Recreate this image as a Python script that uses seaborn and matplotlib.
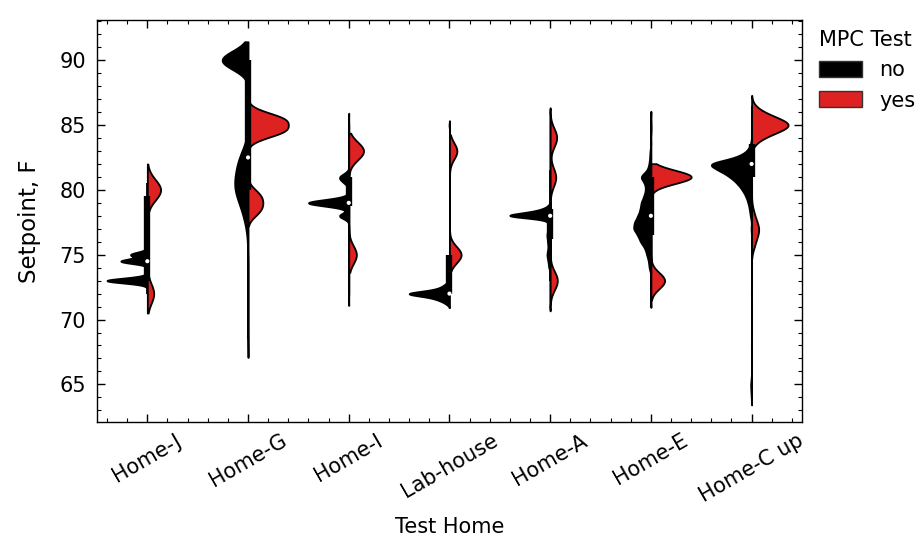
import numpy as np
import pandas as pd
import matplotlib
matplotlib.use("Agg")
import matplotlib.pyplot as plt
import seaborn as sns
from matplotlib.ticker import MultipleLocator
from matplotlib.patches import Patch

# ---- data -------------------------------------------------------------
HOMES = ["Home-J", "Home-G", "Home-I", "Lab-house", "Home-A", "Home-E", "Home-C up"]
MPC_LEVELS = ["no", "yes"]

# (setpoint in F, number of logged intervals at that setpoint)
HOME_J_NO = [(72.75, 2), (73.0, 44), (73.25, 4), (74.5, 30), (75.0, 18), (75.25, 2)]
HOME_J_YES = [(72.0, 20), (79.5, 6), (80.0, 32), (80.5, 6)]

HOME_G_NO = [(68.5, 1), (69.5, 1), (70.5, 1), (71.5, 1), (72.5, 1), (73.5, 1), (74.5, 1),
             (75.5, 2), (76.5, 3), (77.0, 3),
             (77.5, 8), (78.0, 11), (78.5, 15), (79.0, 21), (79.5, 27), (80.0, 33), (80.5, 34),
             (81.0, 30), (81.5, 28), (82.0, 26), (82.5, 22), (83.0, 14), (83.5, 6), (84.0, 2),
             (90.0, 212)]
HOME_G_YES = [(78.0, 1), (78.5, 2), (79.0, 2), (79.5, 2), (80.0, 1),
              (84.0, 2), (84.5, 6), (85.0, 5), (85.5, 6), (86.0, 2)]

HOME_I_NO = [(71.5, 1), (77.75, 2), (78.0, 22), (78.25, 2), (78.75, 22), (79.0, 84),
             (79.25, 22), (79.75, 2), (80.5, 6), (80.75, 10), (81.0, 16), (81.25, 5), (85.5, 1)]
HOME_I_YES = [(75.0, 34), (83.0, 66)]

LAB_HOUSE_NO = [(71.25, 6), (71.5, 16), (71.75, 30), (72.0, 80), (72.25, 24), (72.5, 12),
                (72.75, 6), (85.0, 1)]
LAB_HOUSE_YES = [(75.0, 44), (83.0, 28)]

HOME_A_NO = [(71.0, 1), (74.0, 3), (74.25, 3), (74.5, 4), (74.75, 5), (75.0, 6), (75.25, 5),
             (75.5, 4), (75.75, 4), (76.0, 5), (76.25, 5), (76.5, 6), (76.75, 5), (77.0, 4),
             (77.25, 3), (77.5, 3), (77.75, 10), (78.0, 100), (78.25, 40), (78.5, 14),
             (78.75, 4), (86.0, 1)]
HOME_A_YES = [(72.5, 12), (73.0, 20), (73.5, 12), (80.5, 10), (81.0, 16), (81.5, 8),
              (83.5, 10), (84.0, 18), (84.5, 12)]

HOME_E_NO = [(71.5, 1), (74.0, 8), (74.5, 10), (75.0, 18), (75.5, 25), (76.0, 45), (76.5, 55),
             (77.0, 75), (77.5, 70), (78.0, 55), (78.5, 45), (79.0, 42), (79.5, 30), (80.0, 22),
             (80.5, 25), (81.0, 48), (81.5, 15), (82.0, 8), (82.5, 5), (83.0, 4), (84.0, 2), (85.5, 1)]
HOME_E_YES = [(72.5, 10), (73.0, 25), (73.5, 10), (81.0, 110)]

HOME_C_UP_NO = [(64.0, 1), (64.5, 2), (65.0, 3), (65.5, 1), (68.0, 1), (72.0, 1), (76.0, 1),
                (77.0, 2), (78.0, 4), (78.5, 6), (79.0, 10), (79.5, 16), (80.0, 26), (80.5, 40),
                (81.0, 60), (81.5, 90), (82.0, 130), (82.5, 40), (83.0, 12), (83.5, 3)]
HOME_C_UP_YES = [(75.5, 3), (76.0, 5), (76.5, 8), (77.0, 10), (77.5, 7), (78.0, 4), (78.5, 2),
                 (83.5, 3), (84.0, 14), (84.5, 35), (85.0, 56), (85.5, 35), (86.0, 14), (86.5, 3)]

# KDE bandwidth factor used for each home's violin
KDE_BW = [0.2, 0.14, 0.18, 0.16, 0.12, 0.14, 0.12]

SAMPLES = {
    ("Home-J", "no"): HOME_J_NO, ("Home-J", "yes"): HOME_J_YES,
    ("Home-G", "no"): HOME_G_NO, ("Home-G", "yes"): HOME_G_YES,
    ("Home-I", "no"): HOME_I_NO, ("Home-I", "yes"): HOME_I_YES,
    ("Lab-house", "no"): LAB_HOUSE_NO, ("Lab-house", "yes"): LAB_HOUSE_YES,
    ("Home-A", "no"): HOME_A_NO, ("Home-A", "yes"): HOME_A_YES,
    ("Home-E", "no"): HOME_E_NO, ("Home-E", "yes"): HOME_E_YES,
    ("Home-C up", "no"): HOME_C_UP_NO, ("Home-C up", "yes"): HOME_C_UP_YES,
}

frames = []
for (home, mpc), pairs in SAMPLES.items():
    values = np.repeat([v for v, _ in pairs], [c for _, c in pairs])
    frames.append(pd.DataFrame({"home": home, "mpc": mpc, "setpoint": values}))
df = pd.concat(frames, ignore_index=True)

# ---- style ------------------------------------------------------------
COLORS = {"no": "#000000", "yes": "#de2121"}
LW = 1.3
FS = 15
plt.rcParams["font.family"] = ["DejaVu Sans"]

fig = plt.figure(figsize=(9.2, 5.4), dpi=100)
ax = fig.add_axes([0.1054, 0.2185, 0.7663, 0.7445])

# one call per home so each split violin is scaled on its own
for home, bw in zip(HOMES, KDE_BW):
    sub = df[df["home"] == home]
    sns.violinplot(data=sub, x="home", y="setpoint", hue="mpc",
                   order=HOMES, hue_order=MPC_LEVELS, split=True, inner=None,
                   palette=COLORS, saturation=1, linecolor="black", linewidth=LW,
                   density_norm="area", common_norm=True, bw_method=bw,
                   cut=2, gridsize=400, width=0.8, legend=False, ax=ax)

# box-and-whisker summary of all readings of each home
for pos, home in enumerate(HOMES):
    vals = df.loc[df["home"] == home, "setpoint"].to_numpy()
    q1, med, q3 = np.percentile(vals, [25, 50, 75])
    iqr = q3 - q1
    lo = vals[vals >= q1 - 1.5 * iqr].min()
    hi = vals[vals <= q3 + 1.5 * iqr].max()
    ax.plot([pos, pos], [lo, hi], color="black", lw=LW, solid_capstyle="butt", zorder=3)
    ax.plot([pos, pos], [q1, q3], color="black", lw=LW * 3.5, solid_capstyle="butt", zorder=3)
    ax.scatter([pos], [med], s=9, color="white", edgecolor="none", zorder=4)

ax.set_xlim(-0.5, len(HOMES) - 0.5)
ax.set_ylim(62.1, 93.1)
ax.yaxis.set_major_locator(MultipleLocator(5))
ax.yaxis.set_minor_locator(MultipleLocator(1))
ax.xaxis.set_minor_locator(MultipleLocator(0.2))
ax.tick_params(which="both", direction="in", top=True, right=True, colors="black")
ax.tick_params(which="major", length=6, width=1.0)
ax.tick_params(which="minor", length=3, width=0.8)
ax.tick_params(axis="y", which="major", labelsize=FS, pad=8)
ax.tick_params(axis="x", which="major", labelsize=FS, pad=6)
plt.setp(ax.get_xticklabels(), rotation=30)
for s in ax.spines.values():
    s.set_linewidth(1.0)
    s.set_color("black")

ax.set_xlabel("Test Home", fontsize=FS, labelpad=8)
ax.set_ylabel("Setpoint, F", fontsize=16.5, labelpad=13)

handles = [Patch(facecolor=COLORS[m], edgecolor="#333333", linewidth=1.0, label=m) for m in MPC_LEVELS]
ax.legend(handles=handles, title="MPC Test", loc="upper left", bbox_to_anchor=(1.003, 1.012),
          frameon=False, fontsize=FS, title_fontsize=FS, alignment="left",
          handlelength=2.1, handleheight=0.8, borderaxespad=0.3)

fig.savefig("out.png", dpi=100)
